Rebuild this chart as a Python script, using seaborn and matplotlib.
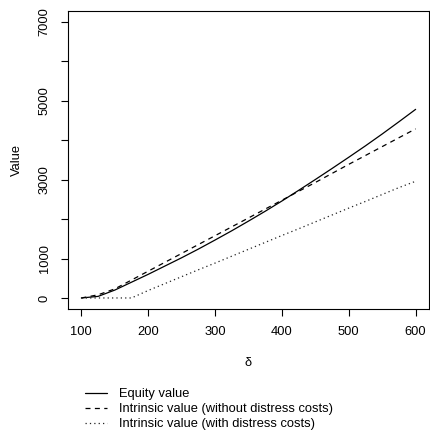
import matplotlib
matplotlib.use("Agg")
import matplotlib.pyplot as plt
import seaborn as sns
import pandas as pd
from matplotlib.lines import Line2D

delta = [100, 125, 150, 175, 200, 225, 250, 275, 300, 325, 350, 375, 400,
         425, 450, 475, 500, 525, 550, 575, 600]
equity = [0, 40, 200, 400, 600, 810, 1020, 1240, 1470, 1705, 1950, 2200, 2460,
          2730, 3005, 3285, 3570, 3860, 4160, 4470, 4785]
intrinsic_no_distress = [0, 80, 230, 455, 680, 905, 1130, 1355, 1580, 1805, 2030,
                         2255, 2480, 2705, 2930, 3160, 3390, 3615, 3840, 4065, 4290]
intrinsic_distress = [0, 0, 0, 0, 190, 365, 540, 715, 885, 1060, 1235, 1410, 1585,
                      1755, 1930, 2105, 2280, 2450, 2625, 2800, 2960]
series_names = ["Equity value",
                "Intrinsic value (without distress costs)",
                "Intrinsic value (with distress costs)"]
yticks = [0, 1000, 2000, 3000, 4000, 5000, 6000, 7000]
ytick_labels = ["0", "1000", "", "3000", "", "5000", "", "7000"]
xticks = [100, 200, 300, 400, 500, 600]

FS = 9.3
sns.set_style("white")
plt.rcParams["font.family"] = ["Liberation Sans", "DejaVu Sans"]
plt.rcParams["text.color"] = "black"
plt.rcParams["xtick.color"] = "black"
plt.rcParams["ytick.color"] = "black"
plt.rcParams["axes.labelcolor"] = "black"

fig = plt.figure(figsize=(4.30, 4.33), dpi=100)
ax = fig.add_axes([68 / 430, 1 - 309 / 433, (429 - 68) / 430, (309 - 11) / 433])

df = pd.DataFrame({"delta": delta, "v": equity})
df2 = pd.DataFrame({"delta": delta, "v": intrinsic_no_distress})
df3 = pd.DataFrame({"delta": delta, "v": intrinsic_distress})
sns.lineplot(data=df, x="delta", y="v", ax=ax, color="black", lw=0.9)
sns.lineplot(data=df2, x="delta", y="v", ax=ax, color="black", lw=0.9)
sns.lineplot(data=df3, x="delta", y="v", ax=ax, color="#222222", lw=0.9)
ax.lines[1].set_dashes((4, 3.5))
ax.lines[2].set_dashes((1, 2.5))

ax.set_xlim(80, 620)
ax.set_ylim(-280, 7280)
ax.set_xticks(xticks)
ax.set_xticklabels([str(v) for v in xticks], fontsize=FS)
ax.set_yticks(yticks)
ax.set_yticklabels(ytick_labels, fontsize=FS, rotation=90, va="center")
ax.tick_params(axis="both", direction="out", length=5, width=0.8,
               bottom=True, left=True)
ax.tick_params(axis="x", pad=7)
ax.tick_params(axis="y", pad=7.5)
for s in ax.spines.values():
    s.set_visible(True)
    s.set_color("black")
    s.set_linewidth(0.8)
ax.set_xlabel("δ", fontsize=FS, labelpad=14)
ax.set_ylabel("Value", fontsize=FS, labelpad=11.5)

handles = [Line2D([], [], color="black", lw=0.9),
           Line2D([], [], color="black", lw=0.9, dashes=(4, 3.5)),
           Line2D([], [], color="#222222", lw=0.9, dashes=(1, 2.5))]
fig.legend(handles, series_names, loc="upper left",
           bbox_to_anchor=(85 / 430, 1 - 388 / 433), frameon=False,
           fontsize=FS, handlelength=1.7, handletextpad=0.93,
           labelspacing=0.24, borderpad=0, borderaxespad=0)

fig.savefig("out.png", dpi=100)
